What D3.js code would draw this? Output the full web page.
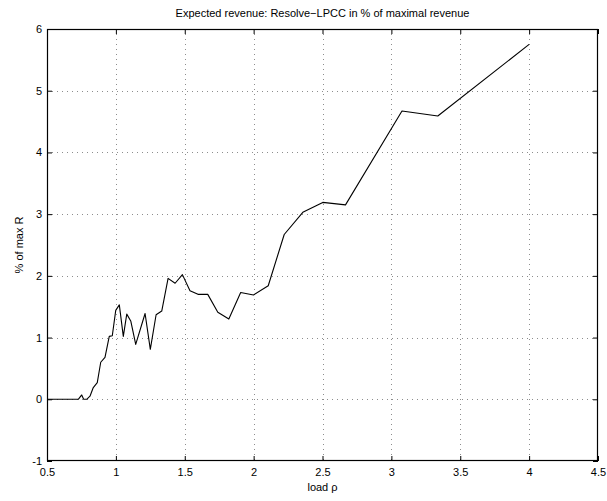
<!DOCTYPE html>
<html>
<head>
<meta charset="utf-8">
<script src="https://cdn.jsdelivr.net/npm/d3@7"></script>
<style>
  html, body { margin: 0; padding: 0; background: #fff; }
  svg { display: block; font-family: "Liberation Sans", Arial, Helvetica, sans-serif; }
</style>
</head>
<body>
<svg id="chart" width="607" height="501"></svg>
<script>
// Load values and the corresponding revenue gain (% of max R)
const load = [0.5, 0.727, 0.752, 0.766, 0.788, 0.812, 0.836, 0.865, 0.89, 0.921, 0.952, 0.974,
  0.999, 1.025, 1.054, 1.079, 1.108, 1.144, 1.212, 1.25, 1.292, 1.333, 1.379, 1.43, 1.483,
  1.538, 1.596, 1.667, 1.74, 1.82, 1.906, 1.999, 2.106, 2.222, 2.357, 2.502, 2.667, 3.077,
  3.337, 4.0];
const revenue = [0, 0, 0.07, 0, 0, 0.05, 0.19, 0.27, 0.6, 0.68, 1.02, 1.03,
  1.44, 1.53, 1.02, 1.38, 1.27, 0.89, 1.39, 0.81, 1.37, 1.43, 1.96, 1.88, 2.02,
  1.76, 1.70, 1.70, 1.41, 1.30, 1.73, 1.69, 1.84, 2.67, 3.03, 3.19, 3.15, 4.67,
  4.59, 5.75];
const xTicks = [0.5, 1, 1.5, 2, 2.5, 3, 3.5, 4, 4.5];
const yTicks = [-1, 0, 1, 2, 3, 4, 5, 6];

const svg = d3.select("#chart");
const plotL = 47, plotR = 598, plotT = 29, plotB = 461;

const x = d3.scaleLinear().domain([0.5, 4.5]).range([plotL, plotR]);
const y = d3.scaleLinear().domain([-1, 6]).range([plotB, plotT]);

// dotted grid
const grid = svg.append("g")
  .attr("stroke", "#000").attr("stroke-width", 0.6)
  .attr("stroke-dasharray", "1,4").attr("opacity", 0.75);
grid.selectAll("line.gx").data(xTicks.slice(1, -1)).join("line")
  .attr("x1", d => Math.round(x(d)) + 0.5).attr("x2", d => Math.round(x(d)) + 0.5)
  .attr("y1", plotT).attr("y2", plotB);
grid.selectAll("line.gy").data(yTicks.slice(1, -1)).join("line")
  .attr("y1", d => Math.round(y(d)) + 0.5).attr("y2", d => Math.round(y(d)) + 0.5)
  .attr("x1", plotL).attr("x2", plotR);

// axes with inward ticks on all four sides
const tickLen = 5;
const fmt = d => String(d);
const axB = svg.append("g").attr("transform", `translate(0,${plotB})`)
  .call(d3.axisBottom(x).tickValues(xTicks).tickFormat(fmt).tickSizeInner(-tickLen).tickSizeOuter(0).tickPadding(7));
const axT = svg.append("g").attr("transform", `translate(0,${plotT})`)
  .call(d3.axisTop(x).tickValues(xTicks).tickFormat("").tickSizeInner(-tickLen).tickSizeOuter(0));
const axL = svg.append("g").attr("transform", `translate(${plotL},0)`)
  .call(d3.axisLeft(y).tickValues(yTicks).tickFormat(fmt).tickSizeInner(-tickLen).tickSizeOuter(0).tickPadding(5));
const axR = svg.append("g").attr("transform", `translate(${plotR},0)`)
  .call(d3.axisRight(y).tickValues(yTicks).tickFormat("").tickSizeInner(-tickLen).tickSizeOuter(0));
[axB, axT, axL, axR].forEach(a => {
  a.select(".domain").remove();
  a.selectAll("line").attr("stroke", "#000");
  a.selectAll("text").attr("font-size", 11).attr("fill", "#000")
    .attr("font-family", "'Liberation Sans', Arial, sans-serif");
});
axB.selectAll("text").attr("dy", "0.71em");

// frame
svg.append("rect").attr("x", plotL + 0.5).attr("y", plotT + 0.5)
  .attr("width", plotR - plotL - 1).attr("height", plotB - plotT - 1)
  .attr("fill", "none").attr("stroke", "#000").attr("stroke-width", 1.2);

// data line
const pts = load.map((d, i) => [d, revenue[i]]);
svg.append("path").datum(pts)
  .attr("fill", "none").attr("stroke", "#000").attr("stroke-width", 1.1)
  .attr("stroke-linejoin", "round")
  .attr("d", d3.line().x(d => x(d[0])).y(d => y(d[1])));

// labels
svg.append("text").attr("x", (plotL + plotR) / 2).attr("y", 17)
  .attr("text-anchor", "middle").attr("font-size", 11)
  .text("Expected revenue: Resolve\u2212LPCC in % of maximal revenue");
svg.append("text").attr("x", (plotL + plotR) / 2).attr("y", 491)
  .attr("text-anchor", "middle").attr("font-size", 11)
  .text("load \u03c1");
svg.append("text").attr("transform", `translate(23,${(plotT + plotB) / 2}) rotate(-90)`)
  .attr("text-anchor", "middle").attr("font-size", 11)
  .text("% of max R");
</script>
</body>
</html>
